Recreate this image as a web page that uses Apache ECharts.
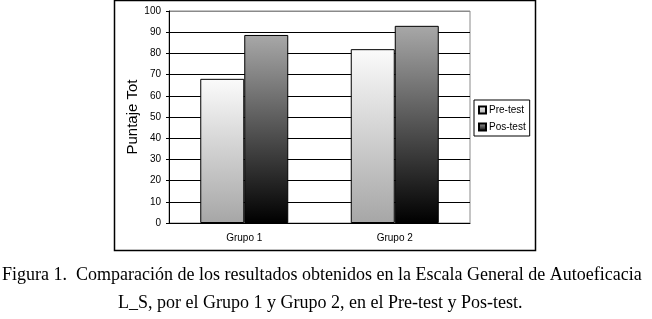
<!DOCTYPE html>
<html>
<head>
<meta charset="utf-8">
<script src="https://cdn.jsdelivr.net/npm/echarts@6/dist/echarts.min.js"></script>
<style>
    html, body { margin: 0; padding: 0; background: #fff; }
    #chart { width: 652px; height: 319px; }
</style>
</head>
<body>
<div id="chart"></div>
<script>
// Data
const groups = ['Grupo 1', 'Grupo 2']
const preTest = [68, 82]
const posTest = [88.7, 93]
const yTicks = { min: 0, max: 100, interval: 10 }
const yName = 'Puntaje Total'
const caption = [
    'Figura 1.  Comparación de los resultados obtenidos en la Escala General de Autoeficacia',
    'L_S, por el Grupo 1 y Grupo 2, en el Pre-test y Pos-test.',
]

// styles
const fontSans = 'Liberation Sans, Arial, sans-serif'
const fontSerif = 'Liberation Serif, Times New Roman, serif'
const gradient = (top, bottom) => new echarts.graphic.LinearGradient(0, 0, 0, 1, [
    { offset: 0, color: top },
    { offset: 1, color: bottom },
])
// grid lines black, the top one is the grey plot border
const splitColors = Array.from({ length: 11 }, (v, i) => (i === 10 ? '#8a8a8a' : '#000'))

const myChart = echarts.init(document.getElementById('chart'), null, { renderer: 'canvas' })
const option = {
    backgroundColor: '#fff',
    animation: false,
    grid: {
        left: 169,
        right: 182,
        top: 11,
        bottom: 96,
        show: true,
        borderColor: '#8a8a8a',
        borderWidth: 1,
        backgroundColor: '#fff',
    },
    legend: {
        orient: 'vertical',
        left: 474,
        top: 100,
        padding: [5, 4, 4, 4],
        itemWidth: 7,
        itemHeight: 7,
        itemGap: 7,
        icon: 'rect',
        borderColor: '#000',
        borderWidth: 1,
        textStyle: { fontFamily: fontSans, fontSize: 10, color: '#000', padding: [0, 0, 0, -2] },
        data: ['Pre-test', 'Pos-test'],
    },
    xAxis: {
        type: 'category',
        data: groups,
        axisLine: { lineStyle: { color: '#000', width: 1 } },
        axisTick: { length: 4, lineStyle: { color: '#000' } },
        axisLabel: { fontFamily: fontSans, fontSize: 10, color: '#000', margin: 10 },
    },
    yAxis: {
        type: 'value',
        min: yTicks.min,
        max: yTicks.max,
        interval: yTicks.interval,
        name: yName,
        nameLocation: 'middle',
        nameRotate: 90,
        nameGap: 28,
        nameTruncate: { maxWidth: 82, ellipsis: '' },
        nameTextStyle: { fontFamily: fontSans, fontSize: 15, color: '#000' },
        axisLine: { show: true, lineStyle: { color: '#000', width: 1 } },
        axisTick: { show: true, length: 3, lineStyle: { color: '#000' } },
        axisLabel: { fontFamily: fontSans, fontSize: 10, color: '#000', margin: 8 },
        splitLine: { show: true, lineStyle: { color: splitColors, width: 1 } },
    },
    series: [
        {
            name: 'Pre-test',
            type: 'bar',
            data: preTest,
            barWidth: 44,
            barGap: '0%',
            itemStyle: { color: gradient('#fbfbfb', '#a6a6a6'), borderColor: '#000', borderWidth: 1 },
        },
        {
            name: 'Pos-test',
            type: 'bar',
            data: posTest,
            barWidth: 44,
            barGap: '0%',
            itemStyle: { color: gradient('#a8a8a8', '#000000'), borderColor: '#000', borderWidth: 1 },
        },
    ],
    graphic: [
        {
            type: 'rect',
            silent: true,
            z: -1,
            shape: { x: 114.5, y: 0.5, width: 421, height: 250 },
            style: { fill: 'none', stroke: '#000', lineWidth: 1.5 },
        },
        {
            type: 'text',
            left: 2,
            top: 266,
            style: { text: caption[0], font: `18px ${fontSerif}`, fill: '#000' },
        },
        {
            type: 'text',
            left: 118,
            top: 294,
            style: { text: caption[1], font: `18px ${fontSerif}`, fill: '#000' },
        },
    ],
}

myChart.setOption(option)
</script>
</body>
</html>
